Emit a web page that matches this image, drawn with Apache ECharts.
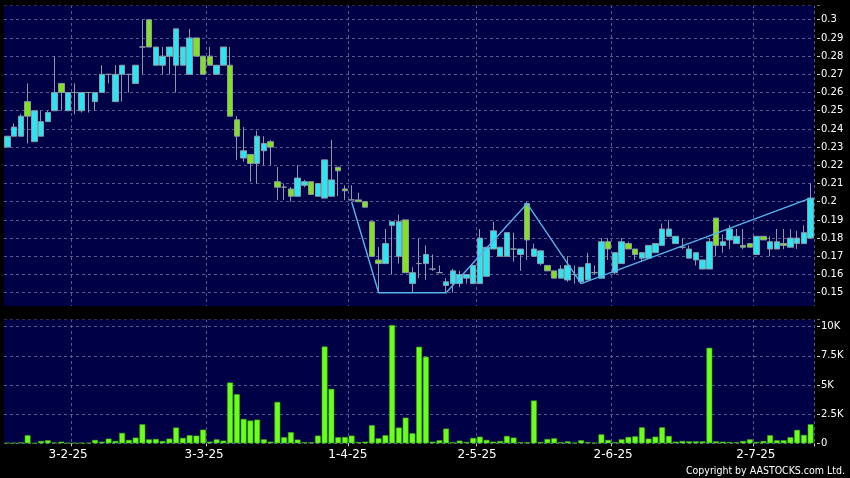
<!DOCTYPE html>
<html><head><meta charset="utf-8">
<script src="https://cdn.jsdelivr.net/npm/echarts@6/dist/echarts.min.js"></script>
<style>html,body{margin:0;padding:0;background:#000;}#c{width:850px;height:478px;}</style>
</head><body><div id="c"></div>
<script>
// ---- data ----
const tickLabels = ['3-2-25','3-3-25','1-4-25','2-5-25','2-6-25','2-7-25'];
const holidays = ['2025-01-29','2025-01-30','2025-01-31','2025-04-04','2025-04-18','2025-04-21','2025-05-01','2025-05-05','2025-07-01'];
const openP = [0.230,0.236,0.236,0.255,0.233,0.236,0.244,0.250,0.265,0.250,
0.260,0.250,0.260,0.255,0.260,0.270,0.255,0.270,0.270,0.265,
0.285,0.300,0.275,0.275,0.280,0.275,0.275,0.270,0.290,0.280,
0.280,0.270,0.275,0.275,0.245,0.224,0.226,0.221,0.228,0.233,
0.211,0.208,0.207,0.203,0.209,0.211,0.203,0.202,0.203,0.219,
0.207,0.201,0.201,0.200,0.189,0.168,0.166,0.187,0.170,0.190,
0.155,0.166,0.166,0.163,0.161,0.154,0.155,0.155,0.158,0.155,
0.155,0.159,0.174,0.170,0.170,0.174,0.171,0.199,0.170,0.166,
0.165,0.162,0.158,0.157,0.160,0.156,0.157,0.161,0.158,0.178,
0.161,0.166,0.177,0.174,0.169,0.169,0.172,0.176,0.181,0.177,
0.175,0.169,0.168,0.163,0.163,0.191,0.176,0.179,0.177,0.176,
0.177,0.171,0.181,0.174,0.174,0.177,0.175,0.177,0.177,0.180];
const closeP = [0.236,0.241,0.247,0.247,0.250,0.244,0.249,0.260,0.260,0.260,
0.260,0.260,0.260,0.260,0.270,0.270,0.270,0.275,0.270,0.275,
0.285,0.285,0.285,0.280,0.285,0.295,0.285,0.290,0.280,0.270,
0.275,0.275,0.285,0.247,0.236,0.228,0.221,0.236,0.232,0.230,
0.208,0.208,0.203,0.213,0.211,0.204,0.210,0.223,0.212,0.217,
0.206,0.201,0.200,0.197,0.170,0.166,0.177,0.189,0.189,0.161,
0.161,0.166,0.171,0.163,0.161,0.156,0.162,0.160,0.160,0.165,
0.180,0.175,0.184,0.175,0.183,0.174,0.174,0.179,0.174,0.173,
0.162,0.158,0.163,0.165,0.160,0.164,0.166,0.161,0.178,0.174,
0.172,0.178,0.174,0.171,0.172,0.176,0.177,0.185,0.185,0.181,
0.175,0.174,0.172,0.168,0.178,0.176,0.178,0.185,0.181,0.175,
0.175,0.181,0.179,0.178,0.178,0.176,0.180,0.180,0.183,0.202];
const lowP = [0.230,0.236,0.236,0.232,0.233,0.236,0.244,0.250,0.250,0.250,
0.248,0.249,0.249,0.250,0.260,0.265,0.255,0.255,0.260,0.265,
0.270,0.285,0.275,0.270,0.270,0.260,0.275,0.270,0.280,0.270,
0.275,0.270,0.275,0.247,0.223,0.222,0.211,0.210,0.220,0.220,
0.201,0.201,0.200,0.203,0.208,0.204,0.203,0.202,0.203,0.203,
0.201,0.201,0.200,0.197,0.170,0.150,0.166,0.160,0.166,0.161,
0.150,0.158,0.157,0.162,0.161,0.150,0.150,0.153,0.155,0.155,
0.155,0.159,0.174,0.170,0.170,0.167,0.162,0.168,0.170,0.165,
0.162,0.158,0.158,0.156,0.155,0.155,0.157,0.160,0.158,0.168,
0.160,0.166,0.174,0.168,0.167,0.169,0.172,0.176,0.181,0.177,
0.174,0.169,0.165,0.163,0.163,0.170,0.172,0.174,0.177,0.174,
0.175,0.171,0.179,0.170,0.174,0.174,0.175,0.174,0.177,0.180];
const highP = [0.236,0.243,0.248,0.265,0.250,0.250,0.250,0.280,0.265,0.260,
0.265,0.260,0.260,0.260,0.275,0.270,0.275,0.275,0.270,0.275,
0.300,0.300,0.285,0.285,0.285,0.295,0.285,0.295,0.290,0.280,
0.285,0.275,0.285,0.285,0.247,0.241,0.226,0.239,0.236,0.234,
0.219,0.210,0.208,0.220,0.212,0.211,0.210,0.223,0.234,0.219,
0.209,0.209,0.205,0.200,0.189,0.175,0.185,0.189,0.193,0.190,
0.164,0.180,0.176,0.171,0.165,0.158,0.163,0.162,0.160,0.165,
0.185,0.175,0.189,0.175,0.183,0.183,0.174,0.200,0.177,0.173,
0.165,0.162,0.165,0.170,0.165,0.164,0.172,0.165,0.180,0.180,
0.172,0.180,0.178,0.174,0.172,0.176,0.177,0.188,0.190,0.181,
0.180,0.176,0.172,0.168,0.180,0.191,0.182,0.187,0.185,0.185,
0.177,0.181,0.181,0.181,0.185,0.185,0.185,0.184,0.187,0.210];
const volume = [50,50,80,690,10,200,260,60,140,30,
30,50,50,290,140,400,200,890,290,490,
1630,340,370,200,400,1350,460,690,660,1170,
140,340,230,5210,4210,2090,1950,2030,340,140,
3550,520,950,320,90,90,660,8300,4670,520,
540,660,110,140,1550,430,690,10140,1350,2200,
860,8280,7420,140,260,1260,90,230,110,460,
570,290,140,200,630,490,90,90,3670,110,
370,430,90,170,60,260,90,60,770,290,
90,340,540,600,1370,400,570,1370,630,140,
200,170,170,170,8190,170,140,110,90,200,
340,110,200,690,260,260,520,1150,720,1630];
// zig-zag turning points (null = no vertex)
const zigzag = new Array(120).fill(null);
const zigIdx = [51,55,65,77,85,119];
const zigVal = [0.200,0.150,0.150,0.199,0.155,0.202];
zigIdx.forEach((k,j)=>{ zigzag[k] = zigVal[j]; });

// trading-day categories (d-m-yy)
const categories = [];
(function(){
  let d = new Date(Date.UTC(2025,0,16));
  while (categories.length < openP.length) {
    const iso = d.toISOString().slice(0,10);
    const wd = d.getUTCDay();
    if (wd !== 0 && wd !== 6 && holidays.indexOf(iso) < 0) {
      categories.push(d.getUTCDate() + '-' + (d.getUTCMonth()+1) + '-' + String(d.getUTCFullYear()).slice(2));
    }
    d = new Date(d.getTime() + 86400000);
  }
})();
const candles = openP.map((o,i)=>[o, closeP[i], lowP[i], highP[i]]);

// ---- style ----
const NAVY = '#000046';
const GRIDC = '#5a5a8e';
const labelPad = [0,2,6,8,10,12];
const rich = {};
labelPad.forEach((p,k)=>{ rich['p'+k] = {padding:[0,0,0,p], color:'#fff', fontSize:12, fontFamily:'DejaVu Sans'}; });
const isBoundary = (idx)=> idx>0 && tickLabels.indexOf(categories[idx-1])>=0;

const chart = echarts.init(document.getElementById('c'), null, {renderer:'canvas'});
chart.setOption({
  backgroundColor:'#000',
  animation:false,
  grid:[
    {left:4, right:36, top:5, height:305.9, show:true, backgroundColor:NAVY, borderWidth:0},
    {left:4, right:36, top:319, height:124.3, show:true, backgroundColor:NAVY, borderWidth:0}
  ],
  xAxis:[
    {type:'category', gridIndex:0, data:categories, boundaryGap:true,
     axisLine:{show:false}, axisTick:{show:false}, axisLabel:{show:false},
     splitLine:{show:true, interval:isBoundary, lineStyle:{color:GRIDC, type:[3,3], width:1}}},
    {type:'category', gridIndex:1, data:categories, boundaryGap:true, offset:3,
     axisLine:{show:false},
     axisTick:{show:true, interval:isBoundary, length:3, lineStyle:{color:'#ccc'}},
     axisLabel:{show:true, interval:(i,v)=>tickLabels.indexOf(v)>=0, margin:3, color:'#fff', fontSize:12, fontFamily:'DejaVu Sans',
       formatter:(v)=>{const k=tickLabels.indexOf(v); return k<0?'':'{p'+k+'|'+v+'}';}, rich:rich},
     splitLine:{show:true, interval:isBoundary, lineStyle:{color:GRIDC, type:[3,3], width:1}}}
  ],
  yAxis:[
    {type:'value', gridIndex:0, position:'right', min:0.14, max:0.3081, interval:0.01, offset:3,
     axisLine:{show:false}, axisTick:{show:true, length:3, lineStyle:{color:'#ccc'}},
     axisLabel:{margin:4, color:'#fff', fontSize:10, fontFamily:'DejaVu Sans',
       formatter:(v)=>{const r=Math.round(v*100); return (Math.abs(v*100-r)<1e-6 && r>=15 && r<=30)? String(r/100):'';}},
     splitLine:{show:true, lineStyle:{color:GRIDC, type:[3,3], width:1}}},
    {type:'value', gridIndex:1, position:'right', min:0, max:10660, interval:2500, offset:3,
     axisLine:{show:false}, axisTick:{show:true, length:3, lineStyle:{color:'#ccc'}},
     axisLabel:{margin:4, color:'#fff', fontSize:10, fontFamily:'DejaVu Sans',
       formatter:(v)=>{ if (v % 2500 !== 0) return ''; return v===0?'0':(v/1000)+'K'; }},
     splitLine:{show:true, lineStyle:{color:GRIDC, type:[3,3], width:1}}}
  ],
  series:[
    {type:'candlestick', xAxisIndex:0, yAxisIndex:0, data:candles, barWidth:6,
     itemStyle:{color:'#2ae6f2', color0:'#84e21c', borderColor:'#8c9aa8', borderColor0:'#8c9aa8', borderWidth:1}},
    {type:'line', xAxisIndex:0, yAxisIndex:0, data:zigzag, connectNulls:true, showSymbol:false, symbol:'none',
     lineStyle:{color:'#56b4ec', width:1.4}, z:5},
    {type:'bar', xAxisIndex:1, yAxisIndex:1, data:volume, barWidth:5.8,
     itemStyle:{color:'#6cff1c', borderColor:'#3fae10', borderWidth:0.6}}
  ],
  graphic:[
    {type:'rect', z:100, silent:true, shape:{x:0,y:0,width:850,height:5.5}, style:{fill:'#000'}},
    {type:'rect', z:100, silent:true, shape:{x:0,y:306,width:850,height:13.5}, style:{fill:'#000'}},
    {type:'text', z:101, right:5, bottom:1, style:{text:'Copyright by AASTOCKS.com Ltd.', fill:'#fff', font:'10.5px "DejaVu Sans Condensed", "DejaVu Sans"'}}
  ]
});
</script></body></html>
